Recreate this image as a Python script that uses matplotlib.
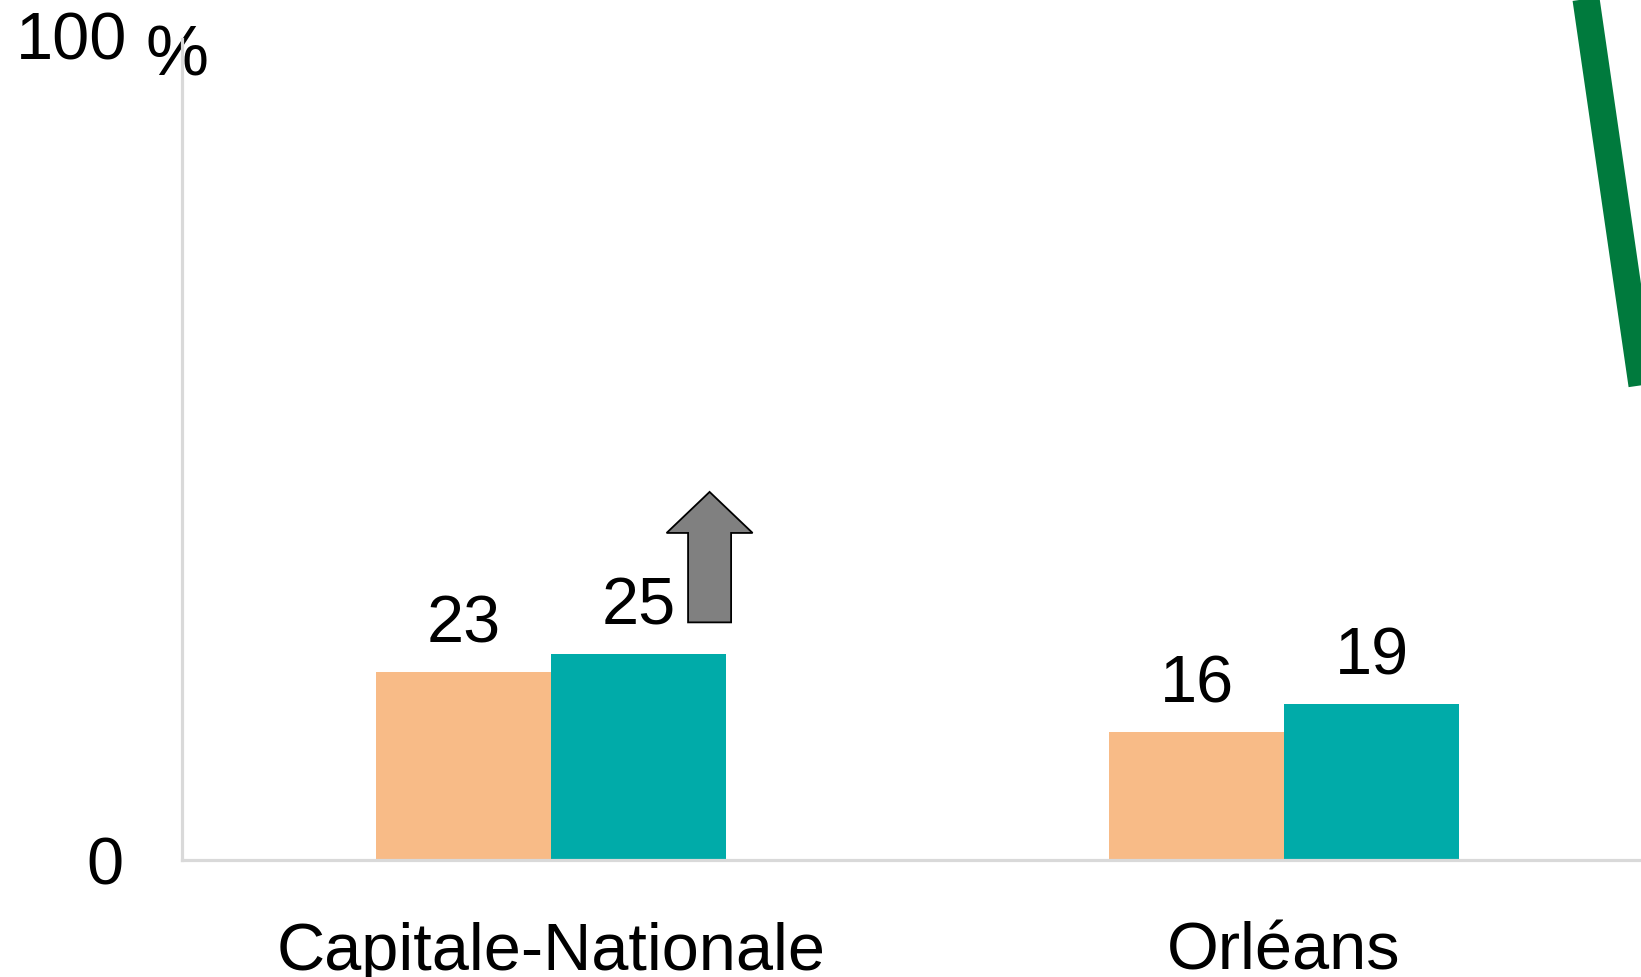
import matplotlib
matplotlib.use("Agg")
import matplotlib.pyplot as plt
from matplotlib.patches import FancyArrow
from matplotlib.lines import Line2D
import numpy as np

plt.rcParams['font.family'] = ['Liberation Sans', 'DejaVu Sans']

# data
categories = ["Capitale-Nationale", "Orléans"]
serie_a = [22.9, 15.5]      # orange
serie_b = [25.0, 19.0]      # teal
labels_a = ["23", "16"]
labels_b = ["25", "19"]

orange = "#F8BB87"
teal = "#00ABA9"
axis_grey = "#D9D9D9"

W, H = 1641, 978
fig = plt.figure(figsize=(W / 100, H / 100), dpi=100)
y0 = 860.5
ytop = 40
ax = fig.add_axes([182 / W, (H - y0) / H, 1 - 182 / W, (y0 - ytop) / H])

x = np.arange(len(categories))
w = 0.2387
ba = ax.bar(x - w / 2, serie_a, w, color=orange, zorder=1)
bb = ax.bar(x + w / 2, serie_b, w, color=teal, zorder=1)

for rect, lab in list(zip(ba, labels_a)) + list(zip(bb, labels_b)):
    ax.annotate(lab, (rect.get_x() + rect.get_width() / 2, rect.get_height()),
                xytext=(0, 22), textcoords="offset points",
                ha="center", va="baseline", fontsize=48)

ax.set_xlim(-0.5034, 1.487)
ax.set_ylim(0, 100)

for s in ["top", "right"]:
    ax.spines[s].set_visible(False)
for s in ["left", "bottom"]:
    ax.spines[s].set_color(axis_grey)
    ax.spines[s].set_linewidth(2.3)
    ax.spines[s].set_zorder(3)

ax.set_xticks(x)
ax.set_xticklabels(categories, fontsize=48)
ax.set_yticks([0])
ax.set_yticklabels(["0"], fontsize=48)
ax.tick_params(axis="both", length=0)
ax.tick_params(axis="x", pad=44)
ax.tick_params(axis="y", pad=42)

# "100 %" label sits over the axis, the % sign is bigger and lower
ax.annotate("100", (16 / W, 100), xycoords=("figure fraction", "data"),
            xytext=(0, -13.7), textcoords="offset points",
            ha="left", va="baseline", fontsize=48, annotation_clip=False)
ax.annotate("%", (145 / W, 100), xycoords=("figure fraction", "data"),
            xytext=(0, -25.5), textcoords="offset points",
            ha="left", va="baseline", fontsize=51, annotation_clip=False)

# grey up arrow next to the 25 bar
ax_x = bb[0].get_x() + bb[0].get_width() / 2 + 0.097
ax_y = serie_b[0] + 3.9
arr = FancyArrow(ax_x, ax_y, 0, 15.9, width=0.0587, head_width=0.1173,
                 head_length=5.0, length_includes_head=True,
                 facecolor="#808080", edgecolor="black", linewidth=1.3,
                 zorder=4, clip_on=False)
ax.add_patch(arr)

# green stroke at the top right edge
gx = np.array([1586 - 0.145 * 20, 1586 + 0.145 * 1000]) / W
gy = np.array([(H + 20) / H, (H - 1000) / H])
fig.add_artist(Line2D(gx, gy, color="#007A3D", linewidth=19.5,
                      solid_capstyle="butt"))

fig.savefig("out.png", dpi=100)
